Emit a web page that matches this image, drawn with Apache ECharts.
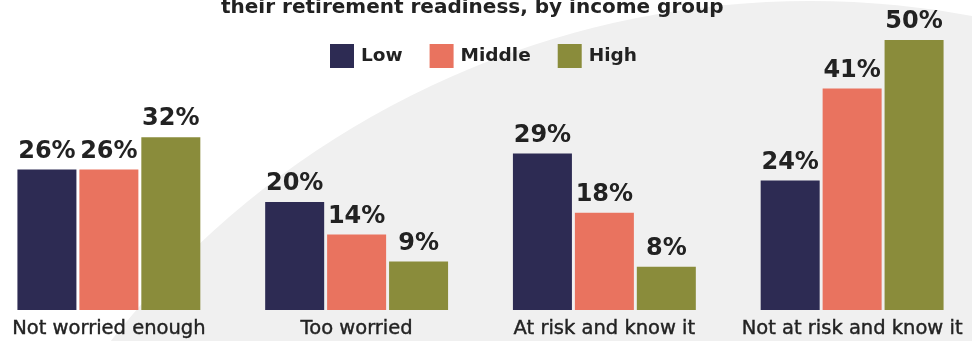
<!DOCTYPE html>
<html>
<head>
<meta charset="utf-8">
<script src="https://cdn.jsdelivr.net/npm/echarts@6/dist/echarts.min.js"></script>
<style>
html,body{margin:0;padding:0;background:#fff;}
#c{width:972px;height:341px;}
</style>
</head>
<body>
<div id="c"></div>
<script>
const titleText = 'their retirement readiness, by income group';
const categories = ['Not worried enough', 'Too worried', 'At risk and know it', 'Not at risk and know it'];
const seriesNames = ['Low', 'Middle', 'High'];
const lowValues = [26, 20, 29, 24];
const middleValues = [26, 14, 18, 41];
const highValues = [32, 9, 8, 50];
const colors = ['#2d2b53', '#e9735f', '#8a8c3b'];

const chart = echarts.init(document.getElementById('c'), null, {renderer: 'canvas'});
const font = '"DejaVu Sans", sans-serif';
const valueSets = [lowValues, middleValues, highValues];

chart.setOption({
  animation: false,
  backgroundColor: '#ffffff',
  graphic: [{
    type: 'circle',
    z: -10,
    silent: true,
    shape: {cx: 810, cy: 890, r: 889},
    style: {fill: '#f0f0f0'}
  }],
  title: {
    text: titleText,
    left: 216,
    top: -7,
    textStyle: {fontFamily: font, fontSize: 20, fontWeight: 'bold', color: '#222'}
  },
  legend: {
    data: seriesNames,
    left: 330,
    top: 44,
    padding: 0,
    itemWidth: 24,
    itemHeight: 24,
    itemGap: 27,
    icon: 'rect',
    textStyle: {fontFamily: font, fontSize: 18.5, fontWeight: 'bold', color: '#222', padding: [0, 0, 0, 2]}
  },
  grid: {left: -15, right: -4, top: 40, bottom: 31, containLabel: false, outerBoundsMode: 'none'},
  xAxis: {
    type: 'category',
    data: categories,
    axisLine: {show: false},
    axisTick: {show: false},
    axisLabel: {fontFamily: font, fontSize: 19.5, color: '#222', margin: 9, interval: 0,
      textBorderColor: '#222', textBorderWidth: 0.4}
  },
  yAxis: {
    type: 'value',
    min: 0,
    max: 50,
    show: false,
    splitLine: {show: false}
  },
  series: seriesNames.map((name, i) => ({
    name: name,
    type: 'bar',
    data: valueSets[i],
    barWidth: 59,
    barGap: '5%',
    itemStyle: {color: colors[i]},
    label: {
      show: true,
      position: 'top',
      distance: 6,
      formatter: '{c}%',
      fontFamily: font,
      fontSize: 24,
      fontWeight: 'bold',
      color: '#222'
    }
  }))
});
</script>
</body>
</html>
